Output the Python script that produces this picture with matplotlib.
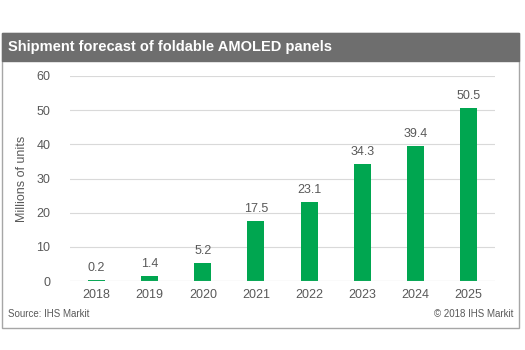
import matplotlib.pyplot as plt
from matplotlib.patches import Rectangle

years = ["2018", "2019", "2020", "2021", "2022", "2023", "2024", "2025"]
shipments = [0.2, 1.4, 5.2, 17.5, 23.1, 34.3, 39.4, 50.5]
yticks = [0, 10, 20, 30, 40, 50, 60]

green = "#00a650"
textgray = "#595959"

fig = plt.figure(figsize=(5.25, 3.5), dpi=100)
fig.patch.set_facecolor("white")
plt.rcParams['font.family'] = ['Liberation Sans', 'DejaVu Sans']

# outer frame and title bar
fig.patches.append(Rectangle((2/525, 1-328/350), 517/525, 295/350, transform=fig.transFigure,
                             facecolor="white", edgecolor="#a6a6a6", lw=1.0, zorder=-2))
fig.patches.append(Rectangle((2/525, 1-61/350), 517/525, 28/350, transform=fig.transFigure,
                             facecolor="#6e6e6e", edgecolor="#6e6e6e", lw=1.0, zorder=-1))
fig.text(8/525, 1-47/350, "Shipment forecast of foldable AMOLED panels", color="white",
         fontsize=10.5, fontweight="bold", va="center", ha="left")

ax = fig.add_axes([70/525, 1-281/350, 425/525, 205/350])
ax.set_facecolor("none")
x = range(len(years))
ax.bar(x, shipments, width=0.32, color=green, zorder=3)
for xi, v in zip(x, shipments):
    ax.text(xi, v + 1.8, f"{v}", ha="center", va="bottom", fontsize=9, color=textgray)

ax.set_xlim(-0.5, len(years) - 0.5)
ax.set_ylim(0, 60)
ax.set_yticks(yticks)
ax.set_xticks(list(x))
ax.set_xticklabels(years)
ax.tick_params(axis="both", length=0, labelsize=9, colors=textgray, pad=6)
ax.tick_params(axis="y", pad=14)
ax.grid(axis="y", color="#d9d9d9", lw=0.8, zorder=0)
for s in ax.spines.values():
    s.set_visible(False)
ax.axhline(0, color="#d9d9d9", lw=0.8, zorder=4)
ax.set_ylabel("Millions of units", fontsize=9, color=textgray, labelpad=6)

fig.text(8/525, 1-314/350, "Source: IHS Markit", fontsize=7, color=textgray, va="center")
fig.text(513/525, 1-314/350, "\u00a9 2018 IHS Markit", fontsize=7, color=textgray, va="center", ha="right")

fig.savefig("out.png", dpi=100)
